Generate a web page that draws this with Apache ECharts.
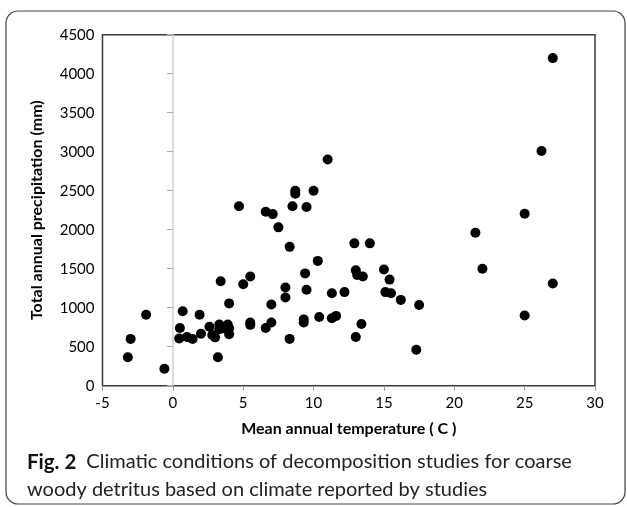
<!DOCTYPE html>
<html>
<head>
<meta charset="utf-8">
<script src="https://cdn.jsdelivr.net/npm/echarts@6/dist/echarts.min.js"></script>
<style>
  html, body { margin: 0; padding: 0; background: #fff; }
  #chart { width: 627px; height: 507px; }
</style>
</head>
<body>
<div id="chart"></div>
<script>
// mean annual temperature (C) for each study
const temperature = [
  11.0, 4.7, 8.7, 8.7, 10.0, 8.5, 9.5, 6.6, 7.1, 7.5,
  8.3, 10.3, 12.9, 14.0, 13.0, 13.1, 13.5, 5.5, 5.0, 3.4,
  9.4, 8.0, 8.0, 9.5, 11.3, 12.2, 7.0, 4.0, -1.9, 0.7,
  1.9, 0.5, 0.45, 1.0, 1.4, 2.0, 2.6, 2.8, 3.0, 3.3,
  3.3, 3.6, 3.9, 4.0, 4.0, 3.2, -3.2, -3.0, -0.6, 5.5,
  5.5, 6.6, 7.0, 8.3, 9.3, 9.3, 10.4, 11.3, 11.6, 13.0,
  13.4, 15.0, 15.4, 15.1, 15.5, 16.2, 17.5, 17.3, 21.5, 22.0,
  25.0, 26.2, 27.0, 27.0, 25.0
];
// total annual precipitation (mm), same order
const precipitation = [
  2900, 2300, 2500, 2460, 2500, 2300, 2290, 2230, 2200, 2030,
  1780, 1600, 1825, 1825, 1480, 1420, 1400, 1400, 1300, 1340,
  1440, 1260, 1130, 1230, 1185, 1200, 1040, 1055, 910, 955,
  910, 740, 605, 625, 600, 665, 755, 650, 620, 785,
  725, 735, 785, 735, 660, 365, 365, 600, 218, 810,
  780, 740, 810, 600, 850, 810, 880, 865, 895, 625,
  790, 1490, 1360, 1200, 1185, 1100, 1035, 462, 1960, 1500,
  2205, 3010, 4200, 1310, 900
];

const xTitle = 'Mean annual temperature ( C )';
const yTitle = 'Total annual precipitation (mm)';
const captionBold = 'Fig. 2';
const captionLine1 = 'Climatic conditions of decomposition studies for coarse';
const captionLine2 = 'woody detritus based on climate reported by studies';

const points = temperature.map((t, i) => [t, precipitation[i]]);

const chart = echarts.init(document.getElementById('chart'));
const font = 'Lato, "Open Sans", sans-serif';

const option = {
  animation: false,
  backgroundColor: '#fff',
  grid: {
    left: 102.5,
    right: 32,
    top: 34.7,
    bottom: 121.3,
    show: true,
    borderColor: '#3a3a3a',
    borderWidth: 1.5
  },
  title: {
    left: 22,
    top: 443,
    text: '{b|' + captionBold + '}  {n|' + captionLine1 + '}\n{n|' + captionLine2 + '}',
    textStyle: {
      rich: {
        b: { fontFamily: font, fontWeight: 'bold', fontSize: 20.5, color: '#111', lineHeight: 28 },
        n: { fontFamily: font, fontWeight: 'normal', fontSize: 20, color: '#222', lineHeight: 28 }
      }
    }
  },
  xAxis: {
    type: 'value',
    min: -5,
    max: 30,
    interval: 5,
    name: xTitle,
    nameLocation: 'middle',
    nameGap: 35,
    nameTextStyle: { fontFamily: font, fontWeight: 'bold', fontSize: 16, color: '#000' },
    axisLine: { show: false },
    axisTick: { show: true, length: 5, lineStyle: { color: '#999' } },
    axisLabel: { fontFamily: font, fontSize: 15, color: '#000', margin: 10 },
    splitLine: { show: false }
  },
  yAxis: [
    {
      type: 'value',
      min: 0,
      max: 4500,
      interval: 500,
      name: yTitle,
      nameLocation: 'middle',
      nameGap: 58,
      nameTextStyle: { fontFamily: font, fontWeight: 'bold', fontSize: 16, color: '#000' },
      axisLine: { show: false },
      axisTick: { show: false },
      axisLabel: { fontFamily: font, fontSize: 15, color: '#000', margin: 8, formatter: v => String(v) },
      splitLine: { show: false }
    },
    {
      // vertical axis line crossing at x = 0
      type: 'value',
      min: 0,
      max: 4500,
      interval: 500,
      position: 'left',
      offset: -70.4,
      axisLine: { show: true, onZero: false, lineStyle: { color: '#cfcfcf', width: 1.5 } },
      axisTick: { show: true, length: 6, lineStyle: { color: '#aaa' } },
      axisLabel: { show: false },
      splitLine: { show: false }
    }
  ],
  graphic: [
    {
      type: 'rect',
      shape: { x: 6, y: 11, width: 619, height: 493, r: 12 },
      style: { fill: 'none', stroke: '#444', lineWidth: 1.2 },
      silent: true,
      z: -1
    }
  ],
  series: [
    {
      type: 'scatter',
      yAxisIndex: 0,
      data: points,
      symbol: 'circle',
      symbolSize: 10,
      itemStyle: { color: '#000', opacity: 1 }
    }
  ]
};

chart.setOption(option);
</script>
</body>
</html>
